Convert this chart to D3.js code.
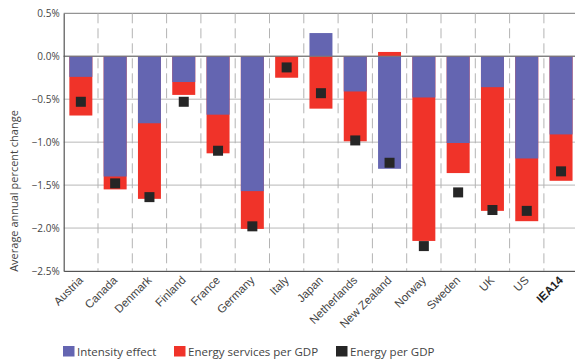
<!DOCTYPE html>
<html><head><meta charset="utf-8">
<script src="https://cdn.jsdelivr.net/npm/d3@7"></script>
<style>
html,body{margin:0;padding:0;background:#fff;}
svg{display:block;font-family:"Open Sans","Noto Sans",sans-serif;}
</style></head>
<body>
<script>
const categories = ["Austria","Canada","Denmark","Finland","France","Germany","Italy","Japan","Netherlands","New Zealand","Norway","Sweden","UK","US","IEA14"];
const intensityEffect = [-0.24,-1.40,-0.78,-0.30,-0.68,-1.57,0.0,0.27,-0.41,-1.31,-0.48,-1.01,-0.36,-1.19,-0.91];
const servicesPerGDP = [-0.69,-1.55,-1.66,-0.45,-1.13,-2.01,-0.25,-0.61,-0.99,0.05,-2.15,-1.36,-1.80,-1.92,-1.45];
const energyPerGDP = [-0.53,-1.48,-1.64,-0.53,-1.10,-1.98,-0.13,-0.43,-0.98,-1.24,-2.21,-1.585,-1.79,-1.80,-1.34];
const yTicks = [0.5,0.0,-0.5,-1.0,-1.5,-2.0,-2.5];
const legendLabels = ["Intensity effect","Energy services per GDP","Energy per GDP"];

const W=575,H=362;
const colors = {blue:"#6465b1", red:"#f03329", black:"#262626"};
const svg = d3.select("body").append("svg").attr("width",W).attr("height",H);

const x = d3.scaleBand().domain(categories).range([63.7,578.2]).paddingInner(0.33).paddingOuter(0.165);
const y = d3.scaleLinear().domain([-2.5,0.5]).range([271,13.3]);

const fmt = v => (v<0?"\u2212":"") + Math.abs(v).toFixed(1) + "%";

// horizontal grid
svg.append("g").selectAll("line").data(yTicks).join("line")
  .attr("x1",63.7).attr("x2",W).attr("y1",d=>y(d)).attr("y2",d=>y(d))
  .attr("stroke",d=> (d===0.5||d===0)?"#7a7a7a":"#b8b8b8").attr("stroke-width",1);

// vertical dashed separators
const step = x.step();
svg.append("g").selectAll("line").data(categories.slice(1)).join("line")
  .attr("x1",(d)=>x(d)-x.paddingInner()*step/2).attr("x2",(d)=>x(d)-x.paddingInner()*step/2)
  .attr("y1",y(0.5)).attr("y2",y(-2.5))
  .attr("stroke","#b3b3b3").attr("stroke-width",1).attr("stroke-dasharray","10,5");

// red bars (behind)
svg.append("g").selectAll("rect").data(categories).join("rect")
  .attr("x",d=>x(d)).attr("width",x.bandwidth())
  .attr("y",(d,i)=>y(Math.max(0,servicesPerGDP[i])))
  .attr("height",(d,i)=>Math.abs(y(servicesPerGDP[i])-y(0)))
  .attr("fill",colors.red);
// blue bars
svg.append("g").selectAll("rect").data(categories).join("rect")
  .attr("x",d=>x(d)).attr("width",x.bandwidth())
  .attr("y",(d,i)=>y(Math.max(0,intensityEffect[i])))
  .attr("height",(d,i)=>Math.abs(y(intensityEffect[i])-y(0)))
  .attr("fill",colors.blue);

// redraw zero line on top
svg.append("line").attr("x1",63.7).attr("x2",W).attr("y1",y(0)).attr("y2",y(0))
  .attr("stroke","#7a7a7a").attr("stroke-width",1);

// black squares
const sq=10;
svg.append("g").selectAll("rect").data(categories).join("rect")
  .attr("x",d=>x(d)+x.bandwidth()/2-sq/2).attr("width",sq)
  .attr("y",(d,i)=>y(energyPerGDP[i])-sq/2).attr("height",sq)
  .attr("fill",colors.black);

// axes
const yAxis = d3.axisLeft(y).tickValues(yTicks).tickFormat(fmt).tickSize(0).tickPadding(4);
const gy = svg.append("g").attr("transform","translate(63.7,0)").call(yAxis);
gy.select(".domain").attr("stroke","#555").attr("stroke-width",1.2);
gy.selectAll("text").attr("font-size","10px").attr("fill","#444").attr("font-family","'Open Sans',sans-serif");

const xAxis = d3.axisBottom(x).tickSize(0).tickPadding(0);
const gx = svg.append("g").attr("transform","translate(0,271)").call(xAxis);
gx.select(".domain").attr("stroke","#555").attr("stroke-width",1.2);
gx.selectAll("text")
  .attr("font-size","11.5px").attr("fill","#444")
  .attr("text-anchor","end")
  .attr("y",0)
  .attr("transform","translate(0,7) rotate(-45)")
  .attr("dy","0.35em")
  .attr("font-weight",d=>d==="IEA14"?"bold":"normal")
  .attr("fill",d=>d==="IEA14"?"#222":"#444");

// y title
svg.append("text").attr("transform","translate(14,191) rotate(-90)")
  .attr("text-anchor","middle").attr("dy","0.35em")
  .attr("font-size","11px").attr("fill","#444").text("Average annual percent change");

// legend
const legX=[63,174,336];
const legColors=[colors.blue,colors.red,colors.black];
const lg = svg.append("g");
legendLabels.forEach((t,i)=>{
  lg.append("rect").attr("x",legX[i]).attr("y",346).attr("width",11.5).attr("height",10.5).attr("fill",legColors[i]);
  lg.append("text").attr("x",legX[i]+14).attr("y",351.5).attr("dy","0.35em")
    .attr("font-size","11.5px").attr("fill","#444").text(t);
});
</script>
</body></html>
